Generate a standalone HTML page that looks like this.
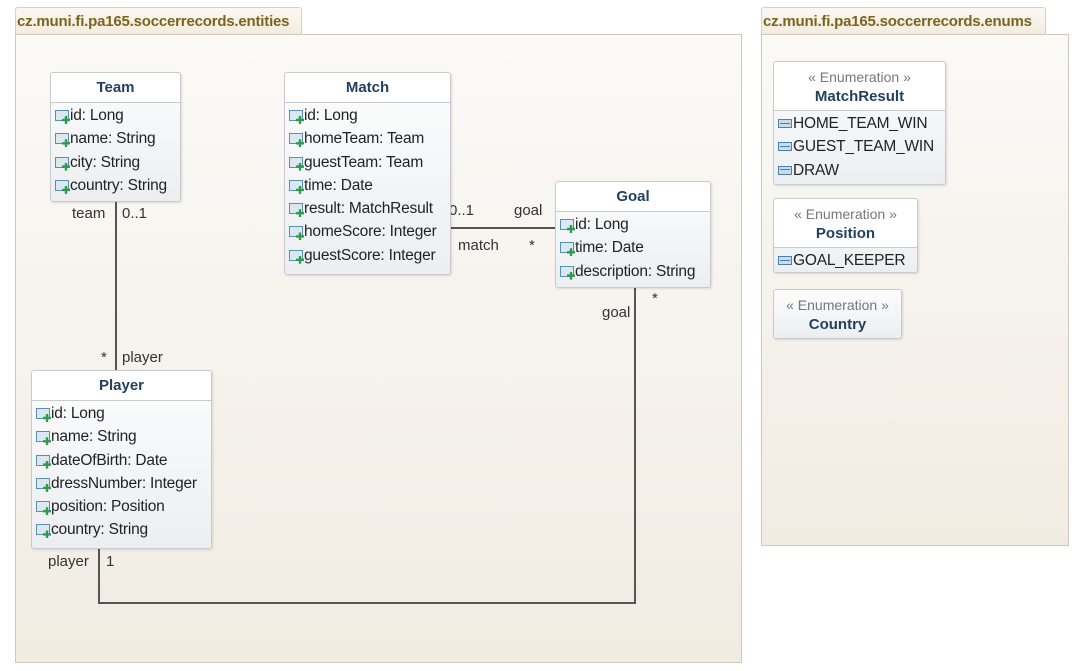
<!DOCTYPE html>
<html><head><meta charset="utf-8"><style>
*{box-sizing:border-box;margin:0;padding:0}
body{width:1082px;height:671px;background:#fff;position:relative;overflow:hidden;font-family:"Liberation Sans",sans-serif;font-size:15.5px;color:#222}
.tab{position:absolute;height:28px;background:linear-gradient(#fbf8f1,#f3ecdd);border:1px solid #d8d0c0;border-bottom:none;border-radius:3px 3px 0 0;color:#7a6420;font-weight:bold;font-size:15px;line-height:27px;padding-left:1px;white-space:nowrap;letter-spacing:-0.2px}
.pkg{position:absolute;background:linear-gradient(#fbfaf7,#f1ebe2);border:1px solid #cfc8bc}
.box{position:absolute;background:linear-gradient(#fdfdfd,#eceef1);border:1px solid #c7cbd0;border-radius:3px;box-shadow:1px 1px 2px rgba(0,0,0,.12)}
.hd{border-bottom:1px solid #c7cbd0;text-align:center;font-weight:bold;color:#23415f;background:#fff;border-radius:3px 3px 0 0;font-size:15px}
.st{color:#777;font-weight:normal;font-size:14px}
.row{height:23.3px;line-height:23.3px;padding-left:4px;white-space:nowrap;position:relative;letter-spacing:-0.2px}
.ic{display:inline-block;width:14px;height:11px;border:1.5px solid #5a8fb0;background:#dbe8f2;vertical-align:-1px;margin-right:1px;position:relative}
.ic:after{content:"";position:absolute;left:6px;top:5px;width:8px;height:8px;background:#2f9a4a;clip-path:polygon(35% 0,65% 0,65% 35%,100% 35%,100% 65%,65% 65%,65% 100%,35% 100%,35% 65%,0 65%,0 35%,35% 35%)}
.el{display:inline-block;width:14px;height:9px;border:1.5px solid #4a7fa8;background:#c9dcec;vertical-align:0px;margin-right:1px;position:relative}
.el:after{content:"";position:absolute;left:1px;right:1px;top:2.5px;height:1px;background:#4a7fa8}
.l{position:absolute;background:#555}
.t{position:absolute;font-size:15px;color:#333;white-space:nowrap}
</style></head><body>
<div class="tab" style="left:15px;top:7px;width:287px">cz.muni.fi.pa165.soccerrecords.entities</div>
<div class="pkg" style="left:15px;top:34px;width:727px;height:629px"></div>
<div class="tab" style="left:761px;top:7px;width:285px">cz.muni.fi.pa165.soccerrecords.enums</div>
<div class="pkg" style="left:761px;top:34px;width:308px;height:512px"></div>

<div class="l" style="left:115px;top:201px;width:2px;height:170px"></div>
<div class="l" style="left:450px;top:227px;width:106px;height:2px"></div>
<div class="l" style="left:634px;top:287px;width:2px;height:317px"></div>
<div class="l" style="left:98px;top:602px;width:538px;height:2px"></div>
<div class="l" style="left:98px;top:548px;width:2px;height:56px"></div>

<div class="t" style="left:72px;top:205px">team</div>
<div class="t" style="left:122px;top:205px">0..1</div>
<div class="t" style="left:101px;top:349px">*</div>
<div class="t" style="left:122px;top:349px">player</div>
<div class="t" style="left:449px;top:202px">0..1</div>
<div class="t" style="left:514px;top:202px">goal</div>
<div class="t" style="left:458px;top:237px">match</div>
<div class="t" style="left:529px;top:237px">*</div>
<div class="t" style="left:652px;top:290px">*</div>
<div class="t" style="left:602px;top:304px">goal</div>
<div class="t" style="left:48px;top:553px">player</div>
<div class="t" style="left:106px;top:553px">1</div>

<div class="box" style="left:50px;top:72px;width:131px;height:130px">
<div class="hd" style="height:30px;line-height:30px">Team</div>
<div style="padding-top:1px">
<div class="row"><span class="ic"></span>id: Long</div>
<div class="row"><span class="ic"></span>name: String</div>
<div class="row"><span class="ic"></span>city: String</div>
<div class="row"><span class="ic"></span>country: String</div></div></div>

<div class="box" style="left:284px;top:72px;width:167px;height:203px">
<div class="hd" style="height:30px;line-height:30px">Match</div>
<div style="padding-top:1px">
<div class="row"><span class="ic"></span>id: Long</div>
<div class="row"><span class="ic"></span>homeTeam: Team</div>
<div class="row"><span class="ic"></span>guestTeam: Team</div>
<div class="row"><span class="ic"></span>time: Date</div>
<div class="row"><span class="ic"></span>result: MatchResult</div>
<div class="row"><span class="ic"></span>homeScore: Integer</div>
<div class="row"><span class="ic"></span>guestScore: Integer</div></div></div>

<div class="box" style="left:555px;top:181px;width:156px;height:107px">
<div class="hd" style="height:30px;line-height:30px">Goal</div>
<div style="padding-top:1px">
<div class="row"><span class="ic"></span>id: Long</div>
<div class="row"><span class="ic"></span>time: Date</div>
<div class="row"><span class="ic"></span>description: String</div></div></div>

<div class="box" style="left:31px;top:370px;width:181px;height:179px">
<div class="hd" style="height:30px;line-height:30px">Player</div>
<div style="padding-top:1px">
<div class="row"><span class="ic"></span>id: Long</div>
<div class="row"><span class="ic"></span>name: String</div>
<div class="row"><span class="ic"></span>dateOfBirth: Date</div>
<div class="row"><span class="ic"></span>dressNumber: Integer</div>
<div class="row"><span class="ic"></span>position: Position</div>
<div class="row"><span class="ic"></span>country: String</div></div></div>

<div class="box" style="left:773px;top:61px;width:173px;height:124px">
<div class="hd" style="height:49px;padding-top:5px;line-height:20px"><div class="st">« Enumeration »</div>MatchResult</div>
<div style="padding-top:1px">
<div class="row"><span class="el"></span>HOME_TEAM_WIN</div>
<div class="row"><span class="el"></span>GUEST_TEAM_WIN</div>
<div class="row"><span class="el"></span>DRAW</div></div></div>

<div class="box" style="left:773px;top:198px;width:145px;height:75px">
<div class="hd" style="height:49px;padding-top:5px;line-height:20px"><div class="st">« Enumeration »</div>Position</div>
<div style="padding-top:1px">
<div class="row"><span class="el"></span>GOAL_KEEPER</div></div></div>

<div class="box" style="left:773px;top:289px;width:129px;height:50px">
<div class="hd" style="height:48px;padding-top:5px;line-height:20px;border-bottom:none;background:none"><div class="st">« Enumeration »</div>Country</div></div>
</body></html>
